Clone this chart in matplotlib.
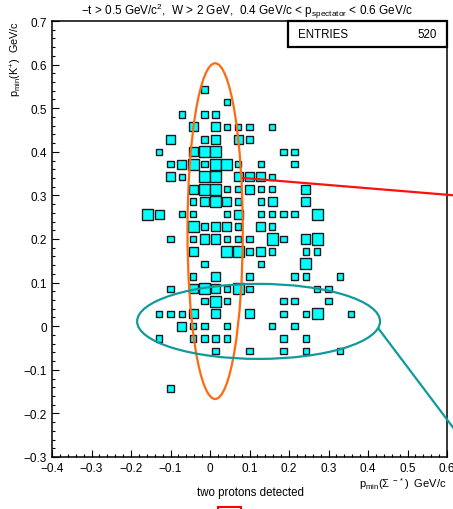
import numpy as np
import matplotlib
matplotlib.use('Agg')
import matplotlib.pyplot as plt
from matplotlib.patches import Rectangle, Ellipse
from matplotlib.ticker import MultipleLocator, FuncFormatter

plt.rcParams['font.family'] = ['Liberation Sans', 'DejaVu Sans']
plt.rcParams['mathtext.fontset'] = 'custom'
plt.rcParams['mathtext.rm'] = 'Liberation Sans'
plt.rcParams['mathtext.it'] = 'Liberation Sans'

# 35 x 35 bins over the plotted range
x_edges = np.linspace(-0.4, 0.6, 36)
y_edges = np.linspace(-0.3, 0.7, 36)

# occupied cells: x-bin index, y-bin index, content
box_ix = [13,
          15,
          11, 13, 14,
          12, 14, 15, 16, 17, 19,
          10, 13, 14, 16, 17,
          9, 12, 13, 14, 20, 21,
          10, 11, 12, 13, 14, 15, 16, 18, 21,
          10, 11, 13, 14, 16, 17, 18, 19,
          12, 13, 14, 15, 16, 17, 18, 19, 22,
          12, 13, 14, 15, 16, 18, 19, 22,
          8, 9, 11, 12, 15, 16, 18, 19, 20, 21, 23,
          12, 13, 14, 15, 16, 18, 19,
          10, 12, 13, 14, 15, 16, 17, 19, 20, 22, 23,
          12, 15, 16, 17, 18, 19, 22, 23,
          13, 18, 22,
          12, 14, 17, 21, 22, 25,
          10, 12, 13, 14, 15, 16, 17, 23, 24,
          13, 14, 15, 20, 21, 24,
          9, 10, 11, 12, 14, 17, 20, 22, 23, 26,
          11, 12, 13, 15, 19, 21,
          9, 12, 13, 14, 15, 20, 22,
          14, 17, 20, 22, 25,
          10]
box_iy = [29,
          28,
          27, 27, 27,
          26, 26, 26, 26, 26, 26,
          25, 25, 25, 25, 25,
          24, 24, 24, 24, 24, 24,
          23, 23, 23, 23, 23, 23, 23, 23, 23,
          22, 22, 22, 22, 22, 22, 22, 22,
          21, 21, 21, 21, 21, 21, 21, 21, 21,
          20, 20, 20, 20, 20, 20, 20, 20,
          19, 19, 19, 19, 19, 19, 19, 19, 19, 19, 19,
          18, 18, 18, 18, 18, 18, 18,
          17, 17, 17, 17, 17, 17, 17, 17, 17, 17, 17,
          16, 16, 16, 16, 16, 16, 16, 16,
          15, 15, 15,
          14, 14, 14, 14, 14, 14,
          13, 13, 13, 13, 13, 13, 13, 13, 13,
          12, 12, 12, 12, 12, 12,
          11, 11, 11, 11, 11, 11, 11, 11, 11, 11,
          10, 10, 10, 10, 10, 10,
          9, 9, 9, 9, 9, 9, 9,
          8, 8, 8, 8, 8,
          5]
box_count = [1,
             1,
             1, 1, 1,
             2, 2, 1, 1, 1, 1,
             2, 1, 2, 2, 1,
             1, 2, 3, 3, 1, 1,
             1, 2, 3, 1, 3, 3, 1, 1, 1,
             2, 1, 3, 3, 2, 2, 2, 1,
             2, 3, 3, 1, 1, 2, 1, 1, 2,
             1, 2, 3, 2, 1, 1, 2, 2,
             3, 2, 1, 1, 1, 2, 1, 1, 1, 1, 3,
             3, 1, 2, 2, 1, 2, 1,
             1, 1, 2, 2, 1, 1, 1, 3, 1, 2, 3,
             2, 3, 3, 1, 2, 1, 1, 1,
             1, 1, 3,
             1, 2, 1, 1, 1, 1,
             1, 2, 3, 2, 1, 3, 1, 1, 1,
             1, 3, 1, 1, 1, 1,
             1, 1, 1, 2, 2, 2, 1, 1, 3, 1,
             2, 1, 1, 1, 1, 1,
             1, 1, 1, 1, 1, 1, 1,
             1, 1, 1, 1, 1,
             1]
n_entries = 520

title = (r"$-$t > 0.5 GeV/c$^{2}$,  W > 2 GeV,  0.4 GeV/c < p$_{\rm spectator}$"
         r" < 0.6 GeV/c")

fig = plt.figure(figsize=(4.53, 5.10), dpi=100)
ax = fig.add_axes([52 / 453, 1 - 458 / 510, 395 / 453, 436 / 510])
ax.set_xlim(-0.4, 0.6)
ax.set_ylim(-0.3, 0.7)

dx = x_edges[1] - x_edges[0]
dy = y_edges[1] - y_edges[0]
cmax = max(box_count)
for ix, iy, c in zip(box_ix, box_iy, box_count):
    xc = 0.5 * (x_edges[ix] + x_edges[ix + 1])
    yc = 0.5 * (y_edges[iy] + y_edges[iy + 1])
    f = np.sqrt(c / cmax) * 0.97
    w, h = dx * f, dy * f * 0.92
    ax.add_patch(Rectangle((xc - w / 2, yc - h / 2), w, h, facecolor='#00ffff',
                           edgecolor='#1a1a1a', linewidth=1.0, zorder=2))

# hand drawn annotations
ax.add_patch(Ellipse((0.013, 0.218), 0.14, 0.77, fill=False,
                     edgecolor='#ff6a10', linewidth=1.6, zorder=3))
ax.add_patch(Ellipse((0.123, 0.011), 0.615, 0.172, fill=False,
                     edgecolor='#119a9a', linewidth=1.6, zorder=3))
ax.plot([0.427, 0.62], [-0.006, -0.238], color='#119a9a', linewidth=1.6,
        clip_on=False, zorder=3)
ax.plot([0.084, 0.62], [0.340, 0.300], color='#ff1010', linewidth=1.6,
        clip_on=False, zorder=3)

ax.xaxis.set_major_locator(MultipleLocator(0.1))
ax.xaxis.set_minor_locator(MultipleLocator(0.02))
ax.yaxis.set_major_locator(MultipleLocator(0.1))
ax.yaxis.set_minor_locator(MultipleLocator(0.02))
fmt = FuncFormatter(lambda v, p: '0' if abs(v) < 1e-9 else ('%g' % round(v, 2)).replace('-', '\u2212'))
ax.xaxis.set_major_formatter(fmt)
ax.yaxis.set_major_formatter(fmt)
ax.tick_params(which='both', direction='in', top=False, right=False,
               labelsize=8.5, width=0.8)
ax.tick_params(which='major', length=5, pad=3.5)
ax.tick_params(which='minor', length=2.5)
for s in ax.spines.values():
    s.set_linewidth(1.1)

# statistics box
ax.add_patch(Rectangle((0.597, 0.941), 0.403, 0.059, transform=ax.transAxes,
                       fill=False, edgecolor='black', linewidth=1.6, zorder=4,
                       clip_on=False))
ax.text(0.622, 0.970, 'ENTRIES', transform=ax.transAxes, fontsize=8.3,
        ha='left', va='center')
ax.text(0.975, 0.970, str(n_entries), transform=ax.transAxes, fontsize=8.3,
        ha='right', va='center')

fig.text(247 / 453, 1 - 15 / 510, title, fontsize=8.5, ha='center', va='baseline')
fig.text(16 / 453, 1 - 21 / 510, r'p$_{\rm min}$(K$^{+}$)  GeV/c', fontsize=7.8,
         rotation=90, ha='center', va='top')
fig.text(447 / 453, 1 - 484 / 510, r'p$_{\rm min}$($\Sigma^{\ -*}$)  GeV/c',
         fontsize=8, ha='right', va='center')
fig.text(250 / 453, 1 - 493 / 510, 'two protons detected', fontsize=8.3,
         ha='center', va='center')
fig.patches.append(Rectangle((218 / 453, -0.02), 23 / 453, 0.024,
                             transform=fig.transFigure, fill=False,
                             edgecolor='#ff0000', linewidth=1.5))

fig.savefig('out.png', dpi=100)
